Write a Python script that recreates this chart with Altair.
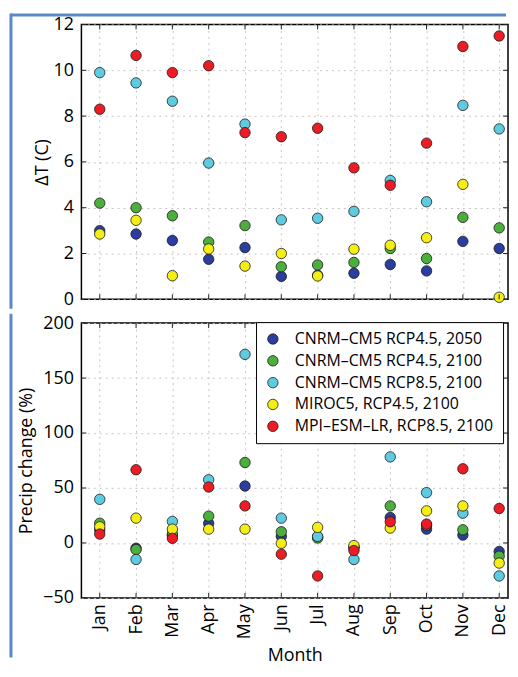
import altair as alt
import pandas as pd

months = ["Jan", "Feb", "Mar", "Apr", "May", "Jun", "Jul", "Aug", "Sep", "Oct", "Nov", "Dec"]
series = [
    "CNRM–CM5 RCP4.5, 2050",
    "CNRM–CM5 RCP4.5, 2100",
    "CNRM–CM5 RCP8.5, 2100",
    "MIROC5, RCP4.5, 2100",
    "MPI–ESM–LR, RCP8.5, 2100",
]
colors = ["#2b3d9f", "#4cae3c", "#5ecbe0", "#f4ee16", "#ec1c24"]

dT_ticks = [0, 2, 4, 6, 8, 10, 12]
pr_ticks = [-50, 0, 50, 100, 150, 200]

# Temperature change (C)
dT_cnrm45_2050 = [3.0, 2.85, 2.57, 1.75, 2.26, 1.0, 1.05, 1.14, 1.52, 1.24, 2.53, 2.22]
dT_cnrm45_2100 = [4.2, 4.0, 3.65, 2.5, 3.22, 1.42, 1.5, 1.61, 2.22, 1.78, 3.58, 3.12]
dT_cnrm85_2100 = [9.9, 9.45, 8.65, 5.95, 7.65, 3.47, 3.54, 3.84, 5.19, 4.26, 8.47, 7.44]
dT_miroc45_2100 = [2.85, 3.45, 1.03, 2.2, 1.45, 2.0, 1.02, 2.19, 2.36, 2.69, 5.02, 0.09]
dT_mpi85_2100 = [8.3, 10.65, 9.9, 10.2, 7.28, 7.1, 7.47, 5.74, 4.98, 6.82, 11.04, 11.5]

# Precipitation change (%)
pr_cnrm45_2050 = [12, -4.8, 7, 17.8, 51.8, 6, 5.5, -4, 23.2, 12.6, 7.2, -7.8]
pr_cnrm45_2100 = [18, -6, 8, 24.4, 73.2, 10.2, 4.5, -4, 33.7, 16, 12, -12]
pr_cnrm85_2100 = [39.7, -15, 19.6, 57.5, 171.6, 22.6, 6, -15, 78.3, 45.8, 27.1, -30]
pr_miroc45_2100 = [14.7, 22.6, 12.6, 12.6, 12.6, -0.3, 14.2, -2.4, 13.6, 29.2, 33.7, -18.3]
pr_mpi85_2100 = [8.1, 66.6, 4.2, 50.9, 33.7, -10.2, -30, -6.9, 19.3, 17.2, 67.5, 31.4]

dT_all = [dT_cnrm45_2050, dT_cnrm45_2100, dT_cnrm85_2100, dT_miroc45_2100, dT_mpi85_2100]
pr_all = [pr_cnrm45_2050, pr_cnrm45_2100, pr_cnrm85_2100, pr_miroc45_2100, pr_mpi85_2100]

rows = []
for s, dts, prs in zip(series, dT_all, pr_all):
    for m, t, p in zip(months, dts, prs):
        rows.append({"month": m, "series": s, "dT": t, "precip": p})
df = pd.DataFrame(rows)
month_df = pd.DataFrame({"month": months})

FONT = "Open Sans"
FRAME = "#5b88c6"
W, H = 430, 277
TK = 5  # inward tick length

xscale = alt.Scale(type="point", padding=0.374, align=0.675, domain=months)
cscale = alt.Scale(domain=series, range=colors)
grid_kw = dict(grid=True, gridDash=[2, 4], gridColor="#c4c4c4", gridWidth=1)
one = alt.Data(values=[{"k": 0}])


def panel(field, domain, ticks, ytitle, ytitle_pad, xaxis_main, legend, frame_y, frame_y2, top_line):
    ysc = alt.Scale(domain=domain, nice=False)
    pts = alt.Chart(df).mark_circle(
        size=110, opacity=1, stroke="#1a1a1a", strokeWidth=0.8
    ).encode(
        x=alt.X("month:N", sort=months, scale=xscale, axis=xaxis_main),
        y=alt.Y(f"{field}:Q", scale=ysc,
                axis=alt.Axis(values=ticks, title=ytitle, ticks=False, domain=False,
                              labelPadding=8, titlePadding=ytitle_pad, **grid_kw)),
        color=alt.Color("series:N", scale=cscale, legend=legend),
    )
    tick_df = pd.DataFrame({field: ticks})
    tcol = "#222222"
    xt_top = alt.Chart(month_df).mark_rule(color=tcol, strokeWidth=1).encode(
        x=alt.X("month:N", sort=months, scale=xscale), y=alt.value(0), y2=alt.value(TK))
    xt_bot = alt.Chart(month_df).mark_rule(color=tcol, strokeWidth=1).encode(
        x=alt.X("month:N", sort=months, scale=xscale), y=alt.value(H - TK), y2=alt.value(H))
    yt_l = alt.Chart(tick_df).mark_rule(color=tcol, strokeWidth=1).encode(
        y=alt.Y(f"{field}:Q", scale=ysc), x=alt.value(0), x2=alt.value(TK))
    yt_r = alt.Chart(tick_df).mark_rule(color=tcol, strokeWidth=1).encode(
        y=alt.Y(f"{field}:Q", scale=ysc), x=alt.value(W - TK), x2=alt.value(W))
    layers = [pts, xt_top, xt_bot, yt_l, yt_r]
    # decorative page frame (left and top edges)
    layers.append(alt.Chart(one).mark_rule(color=FRAME, strokeWidth=3).encode(
        x=alt.value(-71), y=alt.value(frame_y), y2=alt.value(frame_y2)))
    if top_line:
        layers.append(alt.Chart(one).mark_rule(color=FRAME, strokeWidth=3).encode(
            x=alt.value(-71), x2=alt.value(W - 2), y=alt.value(-9.5)))
    return alt.layer(*layers).properties(width=W, height=H)


top = panel(
    "dT", [0, 12], dT_ticks, "ΔT (C)", 2,
    alt.Axis(labels=False, ticks=False, domain=False, title=None, **grid_kw),
    None, -11, H + 9.5, True,
)

legend = alt.Legend(orient="none", legendX=176, legendY=-1, title=None,
                    fillColor="white", strokeColor="black", padding=9,
                    labelFont=FONT, labelFontSize=16, labelColor="black", labelLimit=400,
                    symbolType="circle", symbolSize=110,
                    symbolStrokeColor="#1a1a1a", symbolStrokeWidth=0.8,
                    symbolOpacity=1, labelOffset=14, rowPadding=6)

bot = panel(
    "precip", [-50, 200], pr_ticks, "Precip change (%)", 7,
    alt.Axis(labelAngle=-90, ticks=False, domain=False, labelPadding=6,
             title="Month", titlePadding=8, **grid_kw),
    legend, -9.5, H + 60, False,
)

chart = alt.vconcat(top, bot, spacing=0, padding=0).resolve_legend(
    color="independent"
).configure_view(
    stroke="black", strokeWidth=1.5
).configure_axis(
    labelFont=FONT, labelFontSize=18, labelColor="black",
    titleFont=FONT, titleFontSize=18, titleFontWeight="normal", titleColor="black",
)

chart.save("out.html", embed_options={"renderer": "svg", "actions": False})
